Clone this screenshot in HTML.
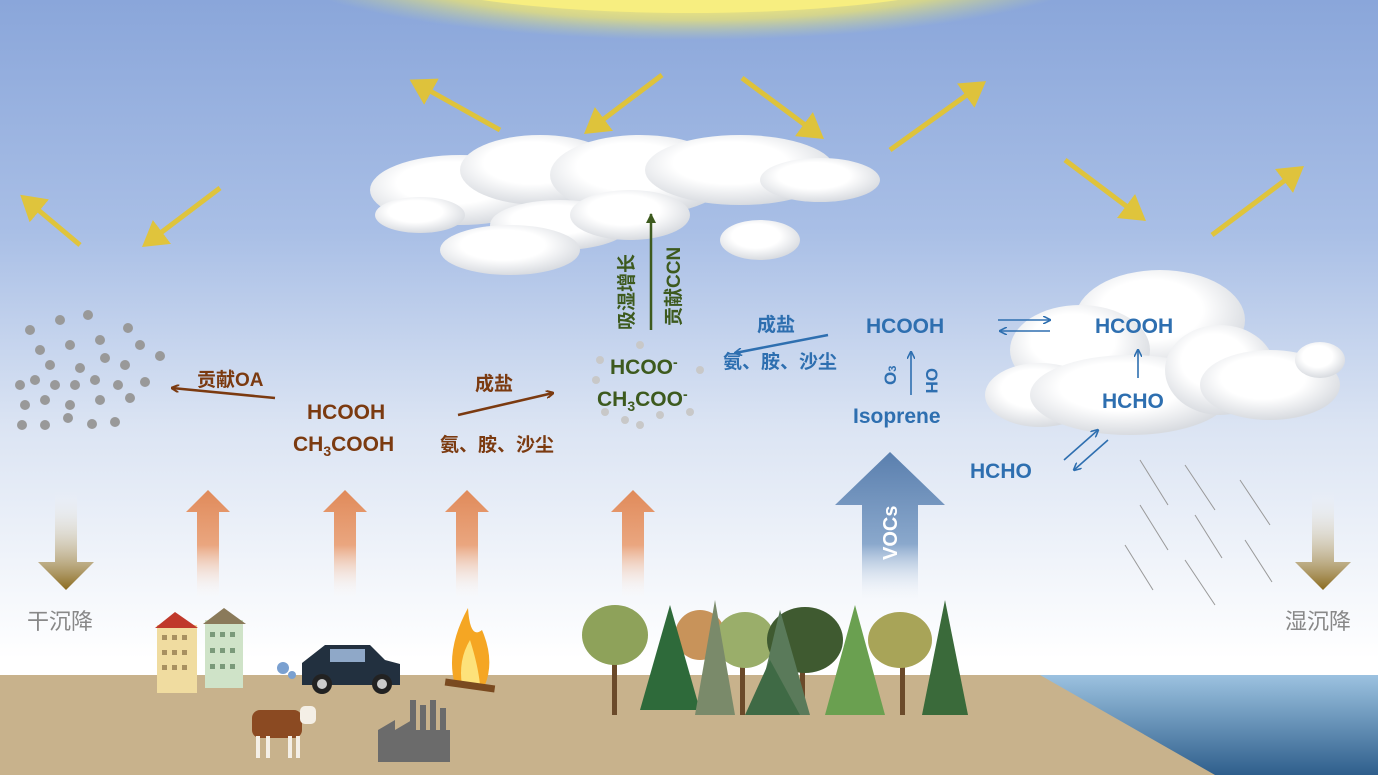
<!DOCTYPE html>
<html><head><meta charset="utf-8"><style>
html,body{margin:0;padding:0;width:1378px;height:775px;overflow:hidden;}
svg{display:block}
text{font-family:"Liberation Sans","Noto Sans CJK SC",sans-serif;}
</style></head><body>
<svg width="1378" height="775" viewBox="0 0 1378 775" xmlns="http://www.w3.org/2000/svg">
<defs>
<linearGradient id="sky" x1="0" y1="0" x2="0" y2="1">
<stop offset="0" stop-color="#8aa6da"/><stop offset="0.3" stop-color="#a9bfe6"/><stop offset="0.55" stop-color="#dbe4f3"/><stop offset="0.85" stop-color="#ffffff"/><stop offset="1" stop-color="#ffffff"/></linearGradient>
<radialGradient id="sun" cx="0.5" cy="0.5" r="0.5"><stop offset="0.55" stop-color="#f6ec7a"/><stop offset="0.75" stop-color="#e6e07a" stop-opacity="0.8"/><stop offset="1" stop-color="#c8d6a0" stop-opacity="0"/></radialGradient>
<linearGradient id="sea" x1="0" y1="0" x2="0" y2="1"><stop offset="0" stop-color="#9cc2e0"/><stop offset="1" stop-color="#2f5f8c"/></linearGradient>
<linearGradient id="org" x1="0" y1="0" x2="0" y2="1"><stop offset="0" stop-color="#e08a5a"/><stop offset="0.5" stop-color="#eaa67f"/><stop offset="1" stop-color="#ffffff" stop-opacity="0"/></linearGradient>
<linearGradient id="voc" x1="0" y1="0" x2="0" y2="1"><stop offset="0" stop-color="#5a7fae"/><stop offset="0.6" stop-color="#8aa8cc"/><stop offset="1" stop-color="#ffffff" stop-opacity="0"/></linearGradient>
<linearGradient id="dn" x1="0" y1="0" x2="0" y2="1"><stop offset="0" stop-color="#ffffff" stop-opacity="0"/><stop offset="1" stop-color="#8a6a1e"/></linearGradient>
<radialGradient id="cl" cx="0.45" cy="0.4" r="0.6"><stop offset="0.5" stop-color="#ffffff"/><stop offset="1" stop-color="#d8dbe0"/></radialGradient>
<marker id="ya" markerWidth="6" markerHeight="6" refX="4" refY="3" orient="auto" markerUnits="strokeWidth"><path d="M0,0 L5,3 L0,6 z" fill="#e6c52a"/></marker>
<marker id="br" markerWidth="8" markerHeight="8" refX="7" refY="4" orient="auto" markerUnits="userSpaceOnUse"><path d="M0,0 L8,4 L0,8" fill="none" stroke="#7b3a10" stroke-width="2"/></marker>
<marker id="bl" markerWidth="8" markerHeight="8" refX="7" refY="4" orient="auto" markerUnits="userSpaceOnUse"><path d="M0,0 L8,4 L0,8" fill="none" stroke="#2e6fb0" stroke-width="1.6"/></marker>
<marker id="gr" markerWidth="10" markerHeight="10" refX="9" refY="5" orient="auto" markerUnits="userSpaceOnUse"><path d="M0,0 L10,5 L0,10 z" fill="#3d5a1e"/></marker>
</defs>
<rect width="1378" height="775" fill="url(#sky)"/>
<ellipse cx="690" cy="-40" rx="420" ry="80" fill="url(#sun)"/>
<ellipse cx="690" cy="-45" rx="330" ry="58" fill="#f7ee80"/>
<rect x="0" y="675" width="1378" height="100" fill="#c8b28c"/>
<polygon points="1040,675 1378,675 1378,775 1215,775" fill="url(#sea)"/>
<g stroke="#e6c52a" stroke-width="5" opacity="0.9" marker-end="url(#ya)">
<line x1="80" y1="245" x2="24" y2="198"/><line x1="220" y1="188" x2="146" y2="244"/>
<line x1="500" y1="130" x2="414" y2="82"/><line x1="662" y1="75" x2="588" y2="131"/>
<line x1="742" y1="78" x2="820" y2="136"/><line x1="890" y1="150" x2="982" y2="84"/>
<line x1="1065" y1="160" x2="1142" y2="218"/><line x1="1212" y1="235" x2="1300" y2="169"/>
</g>
<g fill="url(#cl)">
<ellipse cx="460" cy="190" rx="90" ry="35"/><ellipse cx="540" cy="170" rx="80" ry="35"/>
<ellipse cx="640" cy="175" rx="90" ry="40"/><ellipse cx="740" cy="170" rx="95" ry="35"/>
<ellipse cx="820" cy="180" rx="60" ry="22"/><ellipse cx="560" cy="225" rx="70" ry="25"/>
<ellipse cx="510" cy="250" rx="70" ry="25"/><ellipse cx="760" cy="240" rx="40" ry="20"/>
<ellipse cx="420" cy="215" rx="45" ry="18"/><ellipse cx="630" cy="215" rx="60" ry="25"/>
</g>
<g fill="url(#cl)">
<ellipse cx="1160" cy="320" rx="85" ry="50"/><ellipse cx="1080" cy="350" rx="70" ry="45"/>
<ellipse cx="1040" cy="395" rx="55" ry="32"/><ellipse cx="1130" cy="395" rx="100" ry="40"/>
<ellipse cx="1220" cy="370" rx="55" ry="45"/><ellipse cx="1270" cy="385" rx="70" ry="35"/>
<ellipse cx="1320" cy="360" rx="25" ry="18"/>
</g>
<g fill="#999">
<circle cx="30" cy="330" r="5"/><circle cx="60" cy="320" r="5"/><circle cx="88" cy="315" r="5"/><circle cx="128" cy="328" r="5"/>
<circle cx="40" cy="350" r="5"/><circle cx="70" cy="345" r="5"/><circle cx="100" cy="340" r="5"/><circle cx="140" cy="345" r="5"/>
<circle cx="20" cy="385" r="5"/><circle cx="50" cy="365" r="5"/><circle cx="80" cy="368" r="5"/><circle cx="105" cy="358" r="5"/><circle cx="125" cy="365" r="5"/><circle cx="160" cy="356" r="5"/>
<circle cx="35" cy="380" r="5"/><circle cx="55" cy="385" r="5"/><circle cx="75" cy="385" r="5"/><circle cx="95" cy="380" r="5"/><circle cx="118" cy="385" r="5"/><circle cx="145" cy="382" r="5"/>
<circle cx="25" cy="405" r="5"/><circle cx="45" cy="400" r="5"/><circle cx="70" cy="405" r="5"/><circle cx="100" cy="400" r="5"/><circle cx="130" cy="398" r="5"/>
<circle cx="22" cy="425" r="5"/><circle cx="45" cy="425" r="5"/><circle cx="68" cy="418" r="5"/><circle cx="92" cy="424" r="5"/><circle cx="115" cy="422" r="5"/>
</g>
<g fill="#c8c8c8">
<circle cx="600" cy="360" r="4"/><circle cx="596" cy="380" r="4"/><circle cx="605" cy="412" r="4"/><circle cx="625" cy="420" r="4"/><circle cx="640" cy="425" r="4"/><circle cx="660" cy="415" r="4"/><circle cx="690" cy="412" r="4"/><circle cx="700" cy="370" r="4"/><circle cx="640" cy="345" r="4"/>
</g>
<g fill="url(#org)">
<polygon points="186,512 208,490 230,512 219,512 219,600 197,600 197,512"/>
<polygon points="323,512 345,490 367,512 356,512 356,600 334,600 334,512"/>
<polygon points="445,512 467,490 489,512 478,512 478,600 456,600 456,512"/>
<polygon points="611,512 633,490 655,512 644,512 644,600 622,600 622,512"/>
</g>
<polygon points="835,505 890,452 945,505 918,505 918,605 862,605 862,505" fill="url(#voc)"/>
<text transform="translate(897,560) rotate(-90)" font-size="20" font-weight="bold" fill="#fff">VOCs</text>
<g fill="url(#dn)">
<polygon points="55,490 77,490 77,562 94,562 66,590 38,562 55,562"/>
<polygon points="1312,490 1334,490 1334,562 1351,562 1323,590 1295,562 1312,562"/>
</g>
<text x="27" y="629" font-size="22" fill="#888">干沉降</text>
<text x="1285" y="629" font-size="22" fill="#888">湿沉降</text>
<g stroke="#999" stroke-width="1">
<line x1="1140" y1="460" x2="1168" y2="505"/><line x1="1185" y1="465" x2="1215" y2="510"/><line x1="1240" y1="480" x2="1270" y2="525"/>
<line x1="1140" y1="505" x2="1168" y2="550"/><line x1="1195" y1="515" x2="1222" y2="558"/><line x1="1245" y1="540" x2="1272" y2="582"/>
<line x1="1125" y1="545" x2="1153" y2="590"/><line x1="1185" y1="560" x2="1215" y2="605"/>
</g>
<g fill="#7b3a10" font-weight="bold" font-size="21">
<text x="307" y="419">HCOOH</text>
<text x="293" y="451">CH<tspan font-size="14" dy="5">3</tspan><tspan dy="-5">COOH</tspan></text>
</g>
<g fill="#7b3a10" font-size="19" font-weight="bold">
<text x="197" y="386">贡献OA</text>
<text x="475" y="390">成盐</text>
<text x="440" y="451">氨、胺、沙尘</text>
</g>
<line x1="275" y1="398" x2="172" y2="388" stroke="#7b3a10" stroke-width="2.5" marker-end="url(#br)"/>
<line x1="458" y1="415" x2="553" y2="393" stroke="#7b3a10" stroke-width="2.5" marker-end="url(#br)"/>
<g fill="#3d5a1e" font-weight="bold" font-size="21">
<text x="610" y="374">HCOO<tspan font-size="14" dy="-7">-</tspan></text>
<text x="597" y="406">CH<tspan font-size="14" dy="5">3</tspan><tspan dy="-5">COO</tspan><tspan font-size="14" dy="-7">-</tspan></text>
</g>
<line x1="651" y1="330" x2="651" y2="214" stroke="#3d5a1e" stroke-width="2.5" marker-end="url(#gr)"/>
<text transform="translate(633,330) rotate(-90)" font-size="19" font-weight="bold" fill="#3d5a1e">吸湿增长</text>
<text transform="translate(680,326) rotate(-90)" font-size="19" font-weight="bold" fill="#3d5a1e">贡献CCN</text>
<g fill="#2e6fb0" font-size="19" font-weight="bold">
<text x="757" y="331">成盐</text>
<text x="723" y="368">氨、胺、沙尘</text>
</g>
<line x1="828" y1="335" x2="735" y2="353" stroke="#2e6fb0" stroke-width="2.5" marker-end="url(#bl)"/>
<g fill="#2e6fb0" font-weight="bold" font-size="21">
<text x="866" y="333">HCOOH</text>
<text x="853" y="423">Isoprene</text>
<text x="1095" y="333">HCOOH</text>
<text x="1102" y="408">HCHO</text>
<text x="970" y="478">HCHO</text>
</g>
<text transform="translate(896,385) rotate(-90)" font-size="17" font-weight="bold" fill="#2e6fb0">O<tspan font-size="11">3</tspan></text>
<text transform="translate(926,368) rotate(90)" font-size="17" font-weight="bold" fill="#2e6fb0">OH</text>
<g stroke="#2e6fb0" stroke-width="1.6" marker-end="url(#bl)">
<line x1="911" y1="395" x2="911" y2="352"/>
<line x1="1138" y1="378" x2="1138" y2="350"/>
<line x1="998" y1="320" x2="1050" y2="320"/>
<line x1="1050" y1="331" x2="1000" y2="331"/>
<line x1="1064" y1="460" x2="1098" y2="430"/>
<line x1="1108" y1="440" x2="1074" y2="470"/>
</g>
<rect x="157" y="625" width="40" height="68" fill="#f0dca0"/><polygon points="155,628 175,612 198,628" fill="#c0392b"/>
<rect x="205" y="620" width="38" height="68" fill="#cfe3c8"/><polygon points="203,624 224,608 246,624" fill="#8a7a5a"/>
<g fill="#a89060"><rect x="162" y="635" width="5" height="5"/><rect x="172" y="635" width="5" height="5"/><rect x="182" y="635" width="5" height="5"/><rect x="162" y="650" width="5" height="5"/><rect x="172" y="650" width="5" height="5"/><rect x="182" y="650" width="5" height="5"/><rect x="162" y="665" width="5" height="5"/><rect x="172" y="665" width="5" height="5"/><rect x="182" y="665" width="5" height="5"/></g>
<g fill="#7a9a7a"><rect x="210" y="632" width="5" height="5"/><rect x="220" y="632" width="5" height="5"/><rect x="230" y="632" width="5" height="5"/><rect x="210" y="648" width="5" height="5"/><rect x="220" y="648" width="5" height="5"/><rect x="230" y="648" width="5" height="5"/><rect x="210" y="664" width="5" height="5"/><rect x="220" y="664" width="5" height="5"/><rect x="230" y="664" width="5" height="5"/></g>
<path d="M302,663 L325,645 L370,645 L385,660 L400,664 L400,685 L302,685 z" fill="#22303f"/>
<rect x="330" y="649" width="35" height="13" fill="#8fa8c8"/>
<circle cx="322" cy="684" r="10" fill="#222"/><circle cx="322" cy="684" r="5" fill="#ccc"/>
<circle cx="382" cy="684" r="10" fill="#222"/><circle cx="382" cy="684" r="5" fill="#ccc"/>
<circle cx="283" cy="668" r="6" fill="#7aa0d0"/><circle cx="292" cy="675" r="4" fill="#7aa0d0"/>
<path d="M455,685 Q445,650 468,608 Q470,640 482,630 Q495,660 485,685 z" fill="#f5a623"/>
<path d="M462,685 Q458,660 470,640 Q478,665 480,685 z" fill="#fde27a"/>
<rect x="445" y="682" width="50" height="7" fill="#7a4a20" transform="rotate(8 470 685)"/>
<rect x="252" y="710" width="50" height="28" rx="8" fill="#8b4a22"/>
<rect x="300" y="706" width="16" height="18" rx="5" fill="#f4efe6"/>
<g stroke="#f4efe6" stroke-width="4"><line x1="258" y1="736" x2="258" y2="758"/><line x1="268" y1="736" x2="268" y2="758"/><line x1="290" y1="736" x2="290" y2="758"/><line x1="298" y1="736" x2="298" y2="758"/></g>
<path d="M378,762 L378,730 L395,720 L395,730 L412,720 L412,730 L450,730 L450,762 z" fill="#6b6b6b"/>
<g fill="#6b6b6b"><rect x="410" y="700" width="6" height="30"/><rect x="420" y="705" width="6" height="25"/><rect x="430" y="700" width="6" height="30"/><rect x="440" y="708" width="6" height="22"/></g>
<g>
<rect x="612" y="650" width="5" height="65" fill="#6b4a2a"/><rect x="740" y="650" width="5" height="65" fill="#6b4a2a"/><rect x="800" y="650" width="5" height="65" fill="#6b4a2a"/><rect x="900" y="650" width="5" height="65" fill="#6b4a2a"/>
<ellipse cx="615" cy="635" rx="33" ry="30" fill="#8ea25a"/>
<ellipse cx="700" cy="635" rx="25" ry="25" fill="#c8935a"/>
<ellipse cx="745" cy="640" rx="30" ry="28" fill="#9aae6a"/>
<ellipse cx="805" cy="640" rx="38" ry="33" fill="#3f5a30"/>
<ellipse cx="900" cy="640" rx="32" ry="28" fill="#a8a458"/>
<polygon points="670,605 640,710 700,710" fill="#2e6a3a"/>
<polygon points="715,600 695,715 735,715" fill="#7a8a6a"/>
<polygon points="780,610 755,715 810,715" fill="#5a7a5a"/>
<polygon points="855,605 825,715 885,715" fill="#6aa050"/>
<polygon points="945,600 922,715 968,715" fill="#3a6a3a"/>
<polygon points="770,660 745,715 800,715" fill="#3f6a45"/>
</g>
</svg>
</body></html>
